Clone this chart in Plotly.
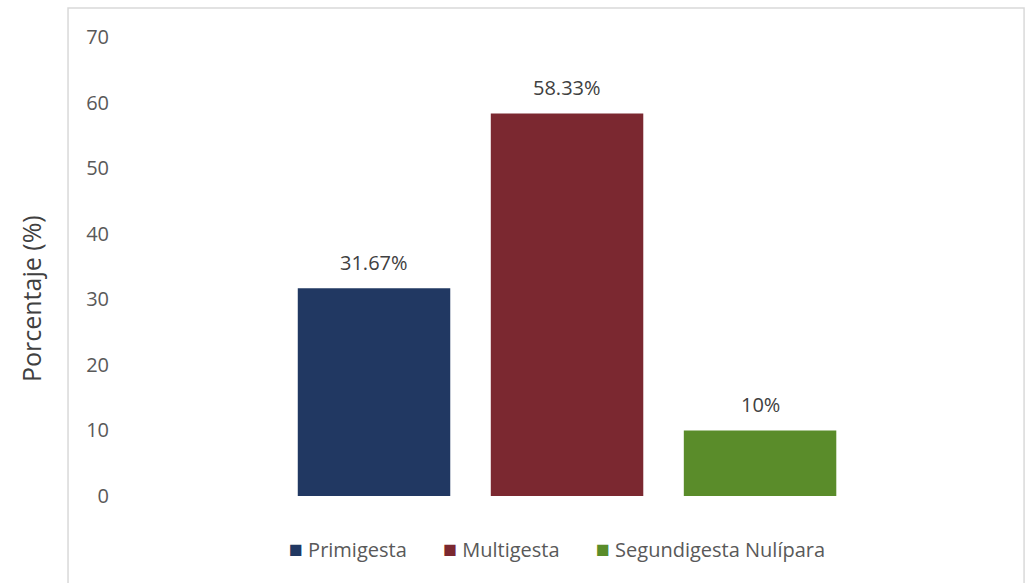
import plotly.graph_objects as go

# Distribución de gestas (%)
categorias = ["Primigesta", "Multigesta", "Segundigesta Nulípara"]
porcentajes = [31.67, 58.33, 10]
colores = ["#213862", "#7B2830", "#5A8C2A"]
y_ticks = [0, 10, 20, 30, 40, 50, 60, 70]

FONT = "Open Sans, Noto Sans, sans-serif"
GRIS = "#595959"

fig = go.Figure()
for cat, val, col in zip(categorias, porcentajes, colores):
    fig.add_trace(go.Bar(
        x=[cat], y=[val], name=cat,
        marker=dict(color=col, line=dict(width=0)),
        width=0.79,
        showlegend=False,
    ))
    # etiqueta de valor sobre cada barra
    fig.add_annotation(
        x=cat, y=val, text=f"{val:g}%", showarrow=False,
        yanchor="middle", yshift=26,
        font=dict(family=FONT, size=20, color="#404040"),
    )

# leyenda compacta: cuadrado de color + nombre
leyenda = "       ".join(
    f"<span style='color:{col};font-size:23px'>■</span> {cat}"
    for cat, col in zip(categorias, colores)
)
fig.add_annotation(
    text=leyenda, xref="paper", yref="paper",
    x=0.488, y=-0.113, xanchor="center", yanchor="middle",
    showarrow=False, font=dict(family=FONT, size=20, color=GRIS),
)

fig.add_annotation(
    text="Porcentaje (%)", xref="paper", yref="paper",
    x=-0.1, y=0.43, xanchor="center", yanchor="middle",
    textangle=-90, showarrow=False,
    font=dict(family=FONT, size=25, color="#404040"),
)

fig.update_layout(
    width=1026, height=583,
    margin=dict(l=120, r=10, t=37, b=87),
    paper_bgcolor="white", plot_bgcolor="white",
    barmode="overlay",
    font=dict(family=FONT, color=GRIS),
    xaxis=dict(
        range=[-1.316, 3.326], showticklabels=False, showgrid=False,
        zeroline=False, showline=False, ticks="",
    ),
    yaxis=dict(
        range=[0, 70], tickvals=y_ticks, showgrid=False, zeroline=False,
        showline=False, ticks="", ticklabelstandoff=10,
        tickfont=dict(family=FONT, size=20, color=GRIS),
    ),
    shapes=[dict(
        type="rect", xref="paper", yref="paper",
        x0=-0.058, x1=1.009, y0=-0.3, y1=1.063,
        line=dict(color="#D9D9D9", width=1.5), layer="below",
    )],
)

fig.write_html("out.html")
